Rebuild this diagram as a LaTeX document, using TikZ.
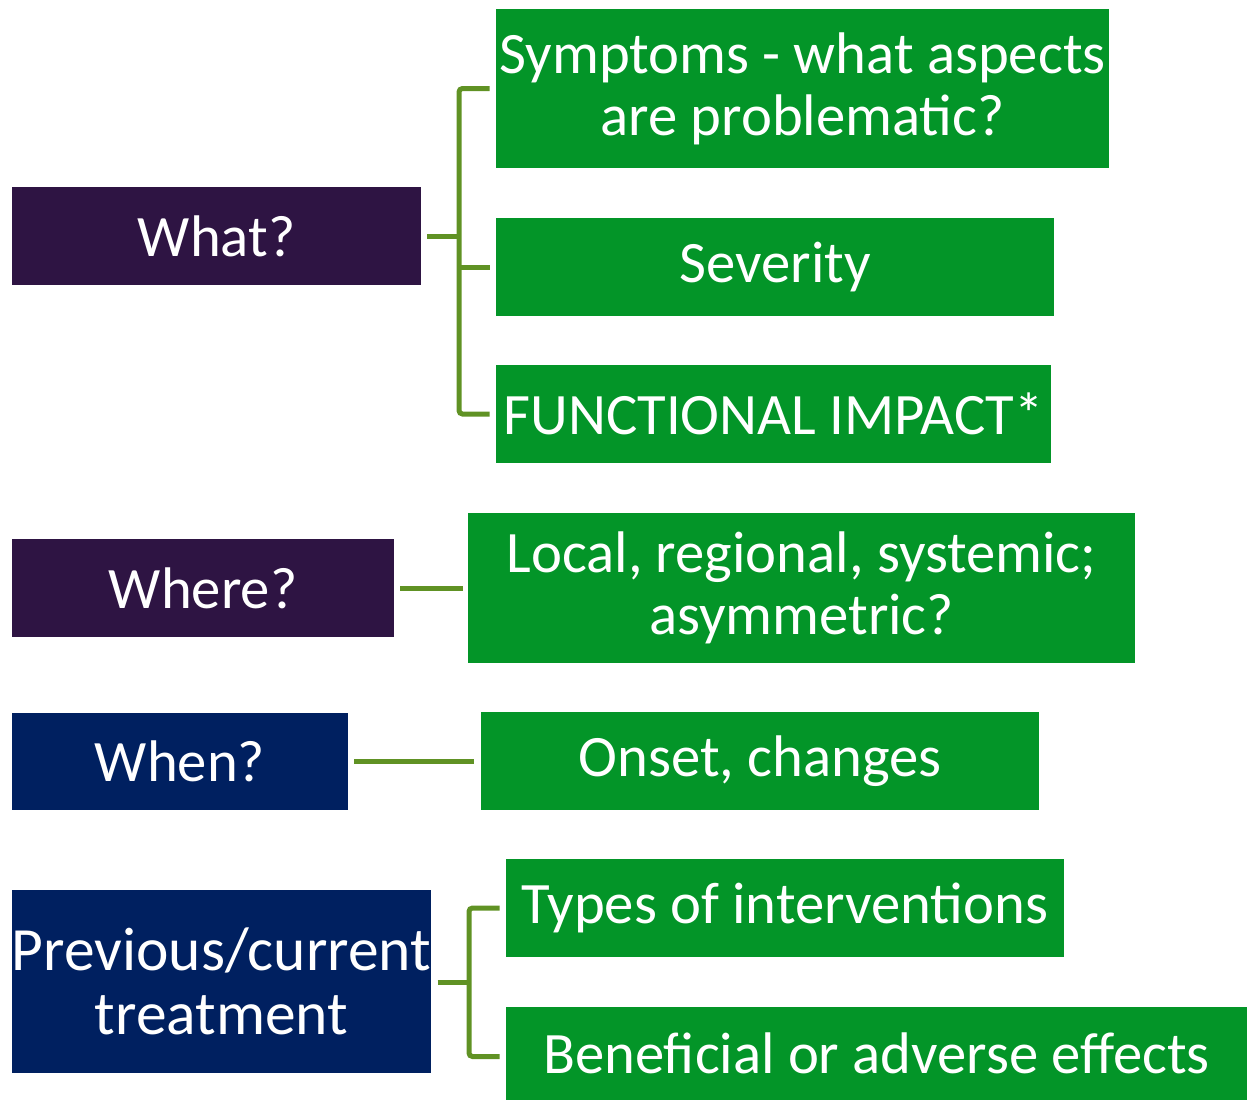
\documentclass[tikz,border=0pt]{standalone}
\usepackage{fontspec}
\setmainfont{Carlito}
\usepackage{tikz}

\definecolor{plum}{RGB}{46,20,67}
\definecolor{navy}{RGB}{0,32,96}
\definecolor{leaf}{RGB}{3,149,40}
\definecolor{olive}{RGB}{96,146,36}

\tikzset{
  box/.style={inner sep=0pt, text=white, align=center,
    font=\fontsize{33.4}{35.3}\selectfont},
  askbox/.style={box, fill=#1},
  infobox/.style={box, fill=leaf},
  link/.style={draw=olive, line width=0.1cm, rounded corners=2pt}
}

\begin{document}
\begin{tikzpicture}[x=0.02cm,y=-0.02cm]
\useasboundingbox (0,0) rectangle (1247,1100);
% questions on the left
\node[askbox=plum, minimum width=8.18cm, minimum height=1.96cm] (what) at (216.5,236) {What?};
\node[askbox=plum, minimum width=7.64cm, minimum height=1.96cm] (where) at (203,588) {Where?};
\node[askbox=navy, minimum width=6.72cm, minimum height=1.94cm] (when) at (180,761.5) {When?};
\node[askbox=navy, minimum width=8.38cm, minimum height=3.66cm,
  font=\fontsize{35}{36.5}\selectfont] (treat) at (221.5,981) {Previous/current\\treatment};
% answers on the right
\node[infobox, minimum width=12.26cm, minimum height=3.18cm] (symp) at (802.5,88.5) {Symptoms - what aspects\\are problematic?};
\node[infobox, minimum width=11.16cm, minimum height=1.96cm] (sev) at (775,267) {Severity};
\node[infobox, minimum width=11.10cm, minimum height=1.96cm] (func) at (773.5,414) {FUNCTIONAL IMPACT*};
\node[infobox, minimum width=13.34cm, minimum height=3.00cm] (local) at (801.5,588) {Local, regional, systemic;\\asymmetric?};
\node[infobox, minimum width=11.16cm, minimum height=1.96cm] (onset) at (760,761) {Onset, changes};
\node[infobox, minimum width=11.16cm, minimum height=1.96cm] (types) at (785,908) {Types of interventions};
\node[infobox, minimum width=14.82cm, minimum height=1.86cm] (benef) at (876.5,1053.5) {Beneficial or adverse effects};
% brackets
\coordinate (wbar) at (459,236);
\draw[link] ([xshift=0.12cm]what.east) -- (wbar);
\draw[link] ([xshift=-0.12cm]symp.west) -| (wbar) |- ([xshift=-0.12cm]func.west);
\draw[link] (wbar |- sev.west) -- ([xshift=-0.12cm]sev.west);
\draw[link, shorten <=0.12cm, shorten >=0.1cm] (where) -- (where -| local.west);
\draw[link, shorten <=0.12cm, shorten >=0.14cm] (when) -- (when -| onset.west);
\coordinate (tbar) at (469,982.5);
\draw[link] ([xshift=0.12cm]treat.east |- tbar) -- (tbar);
\draw[link] ([xshift=-0.12cm]types.west) -| (tbar) |- ([xshift=-0.12cm,yshift=-0.06cm]benef.west);
\end{tikzpicture}
\end{document}
